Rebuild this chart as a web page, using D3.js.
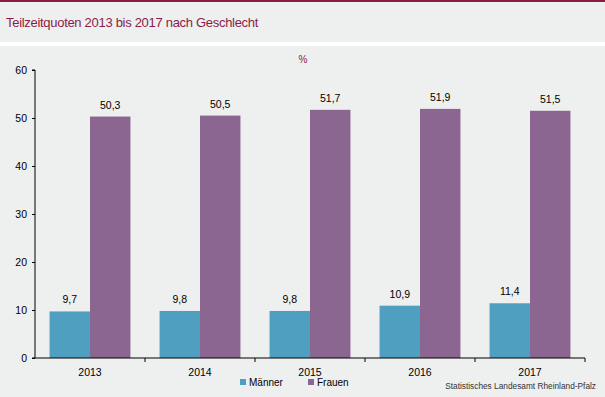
<!DOCTYPE html>
<html><head><meta charset="utf-8">
<script src="https://cdn.jsdelivr.net/npm/d3@7"></script>
<style>body{margin:0;background:#fff}svg{display:block}text{font-family:Arial,"Liberation Sans",sans-serif}</style>
</head><body>
<script>
const years = ["2013","2014","2015","2016","2017"];
const maenner = [9.7, 9.8, 9.8, 10.9, 11.4];
const frauen = [50.3, 50.5, 51.7, 51.9, 51.5];
const seriesNames = ["Männer","Frauen"];
const yTicks = [0,10,20,30,40,50,60];

const W=605,H=397;
const svg=d3.select("body").append("svg").attr("width",W).attr("height",H);
svg.append("rect").attr("width",W).attr("height",H).attr("fill","#fff");
svg.append("rect").attr("x",0).attr("y",2).attr("width",W).attr("height",40).attr("fill","#eeefef");
svg.append("rect").attr("x",0).attr("y",0).attr("width",W).attr("height",2).attr("fill","#8b1c3d");
svg.append("rect").attr("x",0).attr("y",46).attr("width",W).attr("height",H-46).attr("fill","#eeefef");

svg.append("text").attr("x",6).attr("y",27).attr("fill","#8b1c4a").attr("font-size",13).attr("letter-spacing",-0.3)
  .text("Teilzeitquoten 2013 bis 2017 nach Geschlecht");
svg.append("text").attr("x",303).attr("y",63).attr("fill","#8b1c4a").attr("font-size",10).attr("text-anchor","middle").text("%");

const x=d3.scaleBand().domain(years).range([35,585]).paddingInner(0).paddingOuter(0);
const y=d3.scaleLinear().domain([0,60]).range([358,70]);
const xs=d3.scaleBand().domain(seriesNames).range([0,x.bandwidth()]).paddingInner(0).paddingOuter(0.36);
const colors={"Männer":"#4e9fc0","Frauen":"#8a6690"};

const data=years.map((yr,i)=>({year:yr,vals:[{s:"Männer",v:maenner[i]},{s:"Frauen",v:frauen[i]}]}));
const g=svg.append("g");
const grp=g.selectAll("g.grp").data(data).join("g").attr("transform",d=>`translate(${x(d.year)},0)`);
grp.selectAll("rect").data(d=>d.vals).join("rect")
  .attr("x",d=>xs(d.s)).attr("width",xs.bandwidth())
  .attr("y",d=>y(d.v)).attr("height",d=>y(0)-y(d.v)).attr("fill",d=>colors[d.s]);
grp.selectAll("text").data(d=>d.vals).join("text")
  .attr("x",d=>xs(d.s)+xs.bandwidth()/2).attr("y",d=>y(d.v)-8)
  .attr("text-anchor","middle").attr("font-size",10.5).attr("fill","#000")
  .text(d=>String(d.v.toFixed(1)).replace(".",","));

// y axis
const ya=svg.append("g").attr("transform","translate(35,0)")
  .call(d3.axisLeft(y).tickValues(yTicks).tickSize(3).tickPadding(5));
ya.select(".domain").attr("stroke","#000").attr("d","M-3,70H0V358H-3");
ya.selectAll("text").attr("font-size",10.5).attr("fill","#000").style("font-family","Arial,'Liberation Sans',sans-serif");
// x axis
const xa=svg.append("g").attr("transform","translate(0,358)");
xa.append("line").attr("x1",35).attr("x2",585).attr("y1",0).attr("y2",0).attr("stroke","#000");
const bounds=years.map(d=>x(d)+x.bandwidth());
xa.selectAll("line.t").data(bounds).join("line").attr("class","t")
  .attr("x1",d=>d).attr("x2",d=>d).attr("y1",0).attr("y2",4).attr("stroke","#000");
xa.selectAll("text").data(years).join("text")
  .attr("x",d=>x(d)+x.bandwidth()/2).attr("y",18).attr("text-anchor","middle").attr("font-size",10.5).text(d=>d);

// legend
const leg=svg.append("g");
const lx=[240,308];
seriesNames.forEach((s,i)=>{
  leg.append("rect").attr("x",lx[i]).attr("y",379).attr("width",6).attr("height",6).attr("fill",colors[s]);
  leg.append("text").attr("x",lx[i]+9).attr("y",386).attr("font-size",10).text(s);
});
svg.append("text").attr("x",596).attr("y",389).attr("text-anchor","end").attr("font-size",8.3).attr("fill","#333")
  .text("Statistisches Landesamt Rheinland-Pfalz");
</script>
</body></html>
